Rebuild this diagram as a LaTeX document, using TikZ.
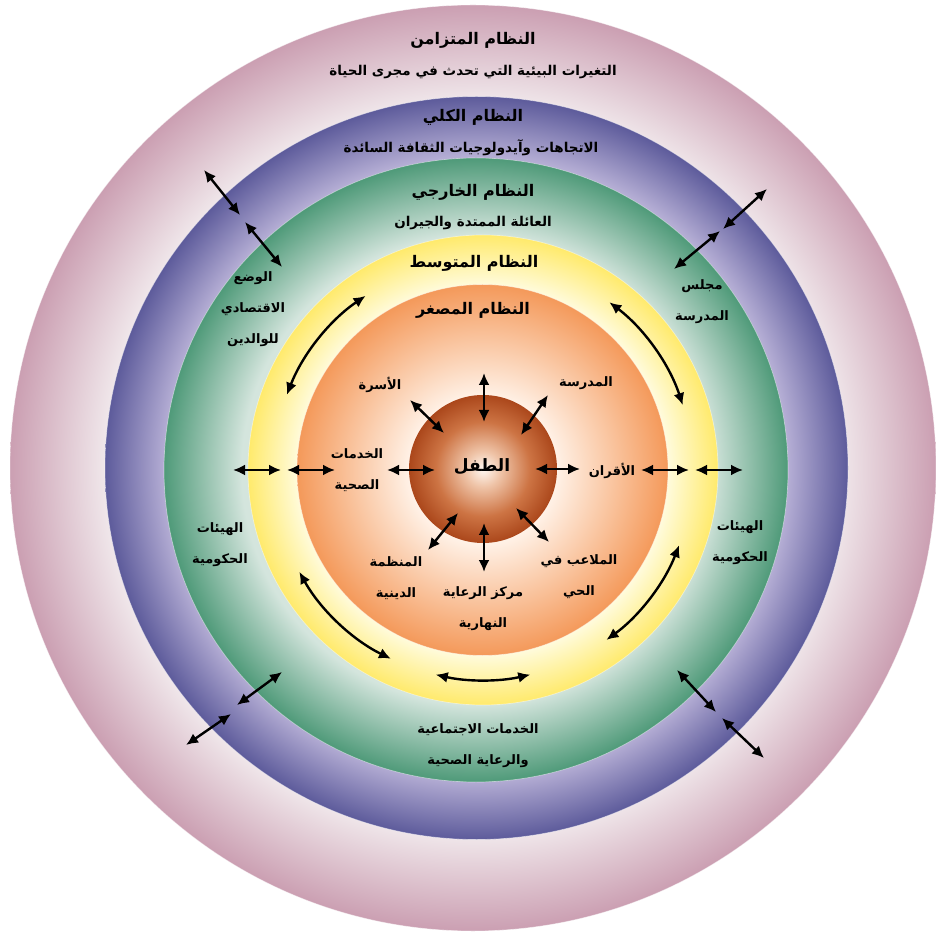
\documentclass[tikz,border=0pt]{standalone}
\usepackage{fontspec}
\usetikzlibrary{arrows.meta}
\newfontfamily\arabicfont[Script=Arabic]{DejaVu Sans}
\TeXXeTstate=1
\newcommand{\AR}[1]{\beginR#1\endR}
\definecolor{pinkO}{HTML}{CB9FB2}
\definecolor{pinkI}{HTML}{EFE5E9}
\definecolor{purO}{HTML}{5D5B9B}
\definecolor{purI}{HTML}{B4ADD4}
\definecolor{grnO}{HTML}{4F9A79}
\definecolor{grnI}{HTML}{D4E5DD}
\definecolor{yelO}{HTML}{FFEA6C}
\definecolor{yelI}{HTML}{FFFBDC}
\definecolor{orgO}{HTML}{F4995A}
\definecolor{orgI}{HTML}{FFF1E6}
\definecolor{chA}{HTML}{FFF8F2}
\definecolor{chB}{HTML}{EFC4A8}
\definecolor{chC}{HTML}{CD7444}
\definecolor{chD}{HTML}{AB471B}
\definecolor{ink}{HTML}{000000}
\pgfdeclareradialshading{pinkring}{\pgfpoint{0bp}{0bp}}{color(0bp)=(pinkI); color(20bp)=(pinkI); color(25bp)=(pinkO); color(50bp)=(pinkO)}
\pgfdeclareradialshading{purring}{\pgfpoint{0bp}{0bp}}{color(0bp)=(purI); color(21bp)=(purI); color(25bp)=(purO); color(50bp)=(purO)}
\pgfdeclareradialshading{grnring}{\pgfpoint{0bp}{0bp}}{color(0bp)=(grnI); color(18.8bp)=(grnI); color(25bp)=(grnO); color(50bp)=(grnO)}
\pgfdeclareradialshading{yelring}{\pgfpoint{0bp}{0bp}}{color(0bp)=(yelI); color(19.7bp)=(yelI); color(25bp)=(yelO); color(50bp)=(yelO)}
\pgfdeclareradialshading{orgring}{\pgfpoint{0bp}{0bp}}{color(0bp)=(orgI); color(10bp)=(orgI); color(25bp)=(orgO); color(50bp)=(orgO)}
\pgfdeclareradialshading{childball}{\pgfpoint{0bp}{0bp}}{color(0bp)=(chA); color(6bp)=(chB); color(16bp)=(chC); color(25bp)=(chD); color(50bp)=(chD)}
\tikzset{
  ttl/.style={font=\arabicfont\bfseries\fontsize{16}{19}\selectfont, text=ink, inner sep=0pt},
  sub/.style={font=\arabicfont\bfseries\fontsize{13.5}{16}\selectfont, text=ink, inner sep=0pt},
  lbl/.style={font=\arabicfont\bfseries\fontsize{13}{31}\selectfont, text=ink, align=center, inner sep=0pt},
  ring/.style={draw=white, draw opacity=0.45, line width=0.7pt},
  arr/.style={{Latex[length=12pt,width=11pt]}-{Latex[length=12pt,width=11pt]}, line width=2.4pt, draw=black},
}
\begin{document}
\begin{tikzpicture}[x=1pt,y=1pt]
\useasboundingbox[fill=white] (0,0) rectangle (936,935);
% rings
\path[ring, shading=pinkring] (473,467) circle[radius=463pt];
\path[ring, shading=purring] (476.5,467) circle[radius=371.5pt];
\path[ring, shading=grnring] (476,465) circle[radius=312pt];
\path[ring, shading=yelring] (483,465) circle[radius=235pt];
\path[ring, shading=orgring] (482.5,465) circle[radius=185.5pt];
\path[shading=childball] (483,466) circle[radius=74pt];
% coordinates
\coordinate (ctr) at (483,465);
\coordinate (u1) at (484,562); \coordinate (u2) at (484,513);
\coordinate (ul1) at (410,535); \coordinate (ul2) at (444,502);
\coordinate (ur1) at (548,540); \coordinate (ur2) at (521,500);
\coordinate (l1) at (387,465); \coordinate (l2) at (435,465);
\coordinate (r1) at (535,466); \coordinate (r2) at (580,466);
\coordinate (ll1) at (458,422); \coordinate (ll2) at (428,385);
\coordinate (d1) at (484,412); \coordinate (d2) at (484,363);
\coordinate (lr1) at (516,427); \coordinate (lr2) at (549,393);
\coordinate (hl1) at (233,465); \coordinate (hl2) at (281,465);
\coordinate (hl3) at (287,465); \coordinate (hl4) at (335,465);
\coordinate (hr1) at (641,465); \coordinate (hr2) at (689,465);
\coordinate (hr3) at (695,465); \coordinate (hr4) at (743,465);
\coordinate (dul1) at (204,765); \coordinate (dul2) at (240,720);
\coordinate (dul3) at (245,713); \coordinate (dul4) at (282,668);
\coordinate (dur1) at (767,746); \coordinate (dur2) at (723,706);
\coordinate (dur3) at (720,704); \coordinate (dur4) at (674,666);
\coordinate (dll1) at (282,263); \coordinate (dll2) at (237,230);
\coordinate (dll3) at (231,221); \coordinate (dll4) at (186,190);
\coordinate (dlr1) at (677,265); \coordinate (dlr2) at (716,223);
\coordinate (dlr3) at (722,217); \coordinate (dlr4) at (764,177);
% arrows
\foreach \a/\b in {u1/u2,ul1/ul2,ur1/ur2,l1/l2,r1/r2,ll1/ll2,d1/d2,lr1/lr2,
  hl1/hl2,hl3/hl4,hr1/hr2,hr3/hr4,dul1/dul2,dul3/dul4,dur1/dur2,dur3/dur4,
  dll1/dll2,dll3/dll4,dlr1/dlr2,dlr3/dlr4}
  \draw[arr] (\a) -- (\b);
\foreach \s/\e in {159/124, 53/18, -21/-54, -103/-77, -151/-116}
  \draw[arr] ([shift={(\s:210)}]ctr) arc[start angle=\s, end angle=\e, radius=210];
% titles
\node[ttl] (t1) at (473,895) {\AR{النظام المتزامن}};
\node[sub] (t2) at (473,863) {\AR{التغيرات البيئية التي تحدث في مجرى الحياة}};
\node[ttl] (t3) at (473,818) {\AR{النظام الكلي}};
\node[sub] (t4) at (471,787) {\AR{الاتجاهات وآيدولوجيات الثقافة السائدة}};
\node[ttl] (t5) at (473,743) {\AR{النظام الخارجي}};
\node[sub] (t6) at (473,712) {\AR{العائلة الممتدة والجيران}};
\node[ttl] (t7) at (474,672) {\AR{النظام المتوسط}};
\node[ttl] (t8) at (473,625) {\AR{النظام المصغر}};
% exosystem labels
\node[lbl] (econ) at (253,626) {\AR{الوضع}\\\AR{الاقتصادي}\\\AR{للوالدين}};
\node[lbl] (board) at (702,633) {\AR{مجلس}\\\AR{المدرسة}};
\node[lbl] (govl) at (220,390) {\AR{الهيئات}\\\AR{الحكومية}};
\node[lbl] (govr) at (740,392) {\AR{الهيئات}\\\AR{الحكومية}};
\node[lbl] (social) at (478,189) {\AR{الخدمات الاجتماعية}\\\AR{والرعاية الصحية}};
% microsystem labels
\node[lbl] (family) at (380,550) {\AR{الأسرة}};
\node[lbl] (school) at (586,552) {\AR{المدرسة}};
\node[lbl] (health) at (357,465) {\AR{الخدمات}\\\AR{الصحية}};
\node[ttl, font=\arabicfont\bfseries\fontsize{17}{20}\selectfont] (child) at (482,468) {\AR{الطفل}};
\node[lbl] (peers) at (612,464) {\AR{الأقران}};
\node[lbl] (relig) at (396,357) {\AR{المنظمة}\\\AR{الدينية}};
\node[lbl] (daycare) at (483,326) {\AR{مركز الرعاية}\\\AR{النهارية}};
\node[lbl] (play) at (579,358) {\AR{الملاعب في}\\\AR{الحي}};
\end{tikzpicture}
\end{document}
